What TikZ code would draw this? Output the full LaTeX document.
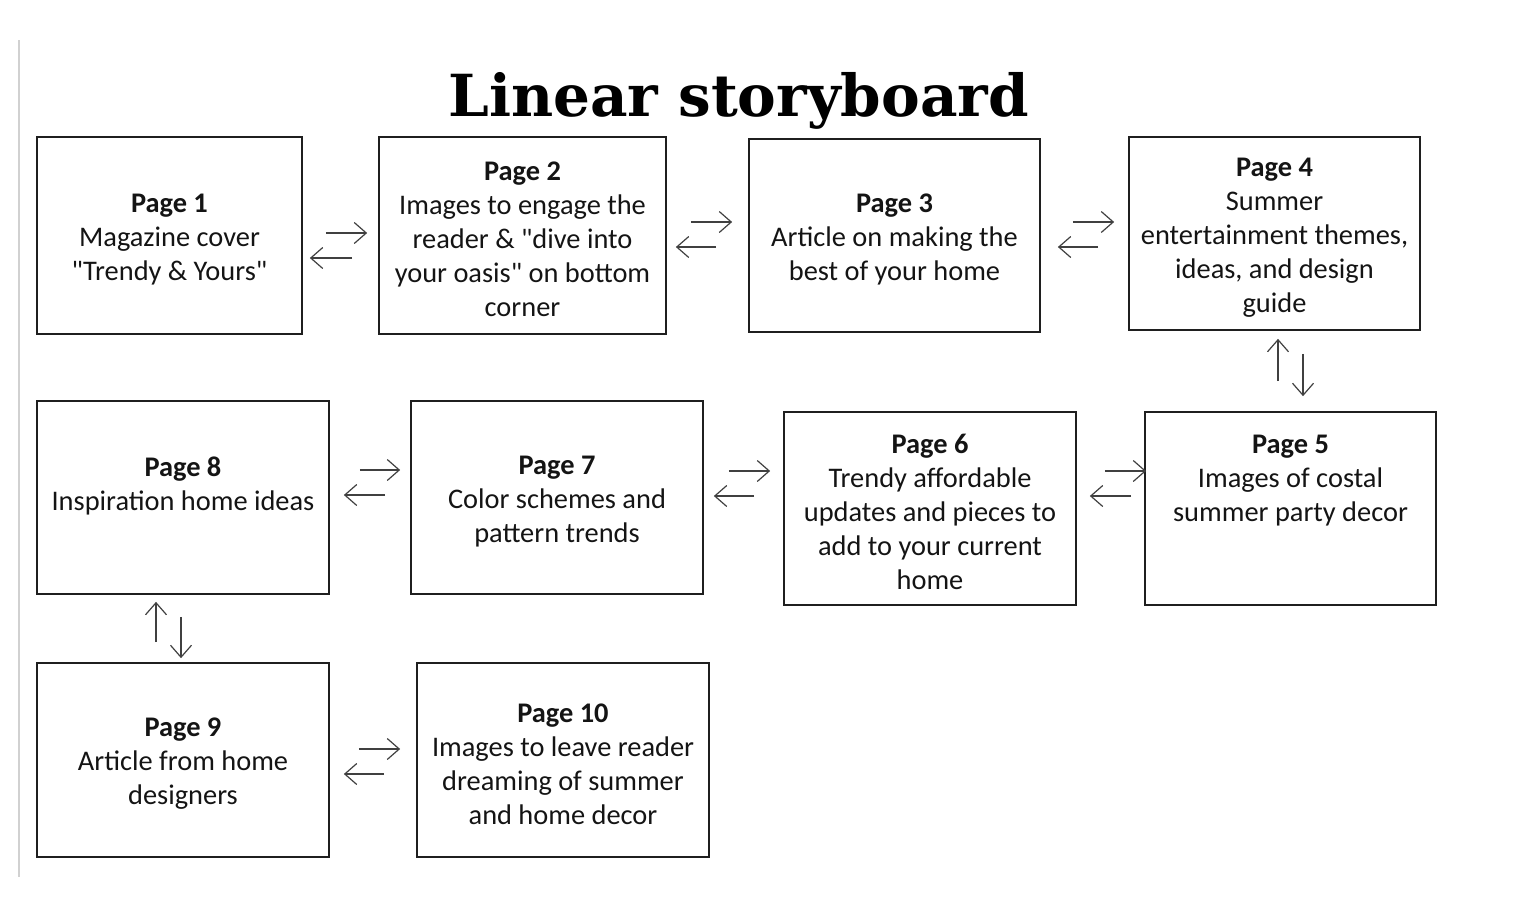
\documentclass[tikz,border=0pt]{standalone}
\usepackage{fontspec}
\setmainfont{Carlito}
\newfontfamily\titlefont{DejaVu Serif}
\usetikzlibrary{calc}
\usetikzlibrary{arrows.meta}
\usetikzlibrary{positioning}
\newcommand{\q}{\textquotedbl}
\newcommand{\pg}[1]{\rule{0pt}{26.5pt}\textbf{Page #1}}

\begin{document}
\begin{tikzpicture}[x=1pt,y=-1pt]
\tikzset{page/.style={draw=black!88, line width=1.7pt, align=center, inner sep=0pt, text=black!92, font=\fontsize{28.4}{34}\selectfont}}
\tikzset{flow/.style={-{Straight Barb[length=12pt,width=21pt]}, line width=1.2pt, black!75}}

\useasboundingbox (0,0) rectangle (1514,908);
\draw[black!18, line width=2pt] (19,40) -- (19,877);

\node[font=\titlefont\bfseries\fontsize{58}{60}\selectfont] (title) at (738.5,101) {Linear storyboard};

% first row
\node[page, minimum width=265, minimum height=197] (P1) at (169.5,235.5) {\pg{1}\\Magazine cover\\\q Trendy \& Yours\q};
\node[page, minimum width=287, minimum height=197] (P2) at (522.5,235.5) {\pg{2}\\Images to engage the\\reader \& \q dive into\\your oasis\q{} on bottom\\corner};
\node[page, minimum width=291, minimum height=193] (P3) at (894.5,235.5) {\pg{3}\\Article on making the\\best of your home};
\node[page, minimum width=291, minimum height=193] (P4) at (1274.5,233.5) {\pg{4}\\Summer\\entertainment themes,\\ideas, and design\\guide};

% second row
\node[page, minimum width=291, minimum height=193] (P5) at (1290.5,508.5) {\pg{5}\\Images of costal\\summer party decor\\\mbox{}\\\mbox{}};
\node[page, minimum width=292, minimum height=193] (P6) at (930,508.5) {\pg{6}\\Trendy affordable\\updates and pieces to\\add to your current\\home};
\node[page, minimum width=292, minimum height=193] (P7) at (557,497.5) {\pg{7}\\Color schemes and\\pattern trends};
\node[page, minimum width=292, minimum height=193] (P8) at (183,497.5) {\pg{8}\\Inspiration home ideas\\\mbox{}};

% third row
\node[page, minimum width=292, minimum height=194] (P9) at (183,760) {\pg{9}\\Article from home\\designers};
\node[page, minimum width=292, minimum height=194] (P10) at (563,760) {\pg{10}\\Images to leave reader\\dreaming of summer\\and home decor};

\draw[flow] ([xshift=23pt,yshift=2.5pt]P1.east) -- ([xshift=-11pt,yshift=2.5pt]P2.west);
\draw[flow] ([xshift=-26pt,yshift=-22.5pt]P2.west) -- ([xshift=7pt,yshift=-22.5pt]P1.east);
\draw[flow] ([xshift=24pt,yshift=13.5pt]P2.east) -- ([xshift=-16pt,yshift=13.5pt]P3.west);
\draw[flow] ([xshift=-32pt,yshift=-11.5pt]P3.west) -- ([xshift=9pt,yshift=-11.5pt]P2.east);
\draw[flow] ([xshift=32pt,yshift=13.5pt]P3.east) -- ([xshift=-14pt,yshift=11.5pt]P4.west);
\draw[flow] ([xshift=-30pt,yshift=-13.5pt]P4.west) -- ([xshift=17pt,yshift=-11.5pt]P3.east);

\draw[flow] ([xshift=28.5pt,yshift=-23pt]P4.south) -- ([xshift=12.5pt,yshift=15pt]P5.north);
\draw[flow] ([xshift=-12.5pt,yshift=30pt]P5.north) -- ([xshift=3.5pt,yshift=-8pt]P4.south);

\draw[flow] ([xshift=-13pt,yshift=12.5pt]P5.west) -- ([xshift=13pt,yshift=12.5pt]P6.east);
\draw[flow] ([xshift=28pt,yshift=37.5pt]P6.east) -- ([xshift=2pt,yshift=37.5pt]P5.west);
\draw[flow] ([xshift=-29pt,yshift=12.5pt]P6.west) -- ([xshift=10pt,yshift=1.5pt]P7.east);
\draw[flow] ([xshift=25pt,yshift=26.5pt]P7.east) -- ([xshift=-13pt,yshift=37.5pt]P6.west);
\draw[flow] ([xshift=-25pt,yshift=2.5pt]P7.west) -- ([xshift=14pt,yshift=2.5pt]P8.east);
\draw[flow] ([xshift=30pt,yshift=27.5pt]P8.east) -- ([xshift=-10pt,yshift=27.5pt]P7.west);

\draw[flow] ([xshift=-2pt,yshift=-22pt]P8.south) -- ([xshift=-2pt,yshift=4pt]P9.north);
\draw[flow] ([xshift=-27pt,yshift=20pt]P9.north) -- ([xshift=-27pt,yshift=-7pt]P8.south);

\draw[flow] ([xshift=29pt,yshift=11pt]P9.east) -- ([xshift=-16pt,yshift=11pt]P10.west);
\draw[flow] ([xshift=-32pt,yshift=-14pt]P10.west) -- ([xshift=14pt,yshift=-14pt]P9.east);
\end{tikzpicture}
\end{document}
